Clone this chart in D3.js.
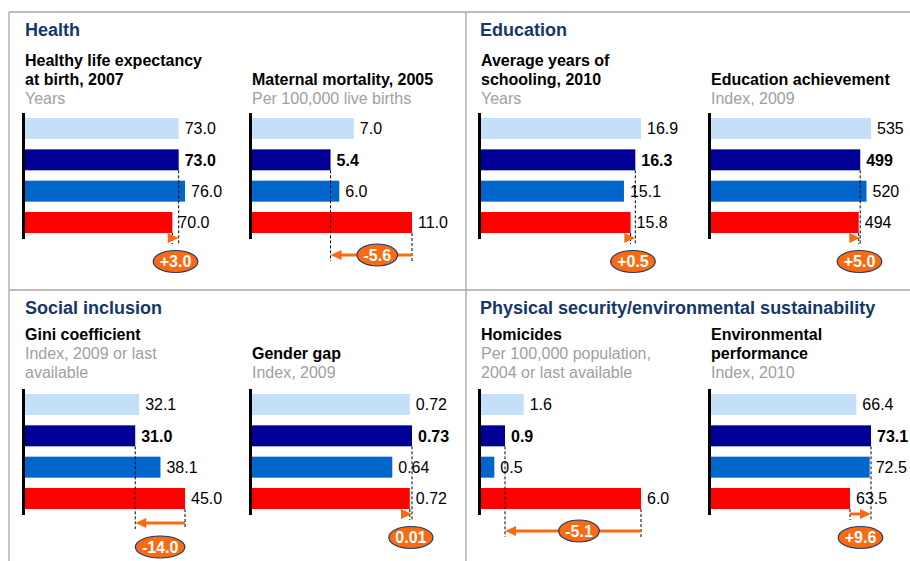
<!DOCTYPE html>
<html>
<head>
<meta charset="utf-8">
<script src="https://cdn.jsdelivr.net/npm/d3@7"></script>
<style>
  body { margin: 0; background: #fff; }
  svg { display: block; font-family: "Liberation Sans", Arial, sans-serif; }
</style>
</head>
<body>
<div id="chart"></div>
<script>
// bar order inside every small chart (top to bottom)
var series = ['Peer A', 'Country', 'Peer B', 'Peer C'];
var seriesColors = ['#c6dff8', '#000096', '#0066cc', '#ff0000'];

var groups = ['Health', 'Education', 'Social inclusion', 'Physical security/environmental sustainability'];

var titles = [
    ['Healthy life expectancy', 'at birth, 2007'],
    ['Maternal mortality, 2005'],
    ['Average years of', 'schooling, 2010'],
    ['Education achievement'],
    ['Gini coefficient'],
    ['Gender gap'],
    ['Homicides'],
    ['Environmental', 'performance']
];
var units = [
    ['Years'],
    ['Per 100,000 live births'],
    ['Years'],
    ['Index, 2009'],
    ['Index, 2009 or last', 'available'],
    ['Index, 2009'],
    ['Per 100,000 population,', '2004 or last available'],
    ['Index, 2010']
];

var lifeExpectancy = [73.0, 73.0, 76.0, 70.0],
    maternalMortality = [7.0, 5.4, 6.0, 11.0],
    yearsSchooling = [16.9, 16.3, 15.1, 15.8],
    eduAchievement = [535, 499, 520, 494],
    gini = [32.1, 31.0, 38.1, 45.0],
    genderGap = [0.72, 0.73, 0.64, 0.72],
    homicides = [1.6, 0.9, 0.5, 6.0],
    envPerformance = [66.4, 73.1, 72.5, 63.5];

var values = [lifeExpectancy, maternalMortality, yearsSchooling, eduAchievement,
              gini, genderGap, homicides, envPerformance];
var formats = ['.1f', '.1f', '.1f', 'd', '.1f', '.2f', '.1f', '.1f'];
var gapLabels = ['+3.0', '-5.6', '+0.5', '+5.0', '-14.0', '0.01', '-5.1', '+9.6'];

// where the gap bubble sits
var gapPlacement = ['short', 'inline', 'short', 'short', 'below', 'short', 'inline', 'short'];

var width = 910, height = 561;
var colX = [25, 252, 481, 711],
    rowY = [118, 394],
    headX = [25, 480],
    headY = [36, 314],
    unitY = [104, 378],
    lineH = 19;

var orange = '#f96b12', navyText = '#17376a', grey = '#a0a0a0';

var svg = d3.select('#chart').append('svg')
    .attr('width', width)
    .attr('height', height);

// frame
var frame = svg.append('g').attr('stroke', '#a6a6a6').attr('stroke-width', 1.3);
frame.append('line').attr('x1', 9).attr('x2', width).attr('y1', 12).attr('y2', 12);
frame.append('line').attr('x1', 9).attr('x2', 9).attr('y1', 12).attr('y2', height);
frame.append('line').attr('x1', 466).attr('x2', 466).attr('y1', 12).attr('y2', height);
frame.append('line').attr('x1', 9).attr('x2', width).attr('y1', 290).attr('y2', 290);

// group headings
groups.forEach(function(g, i){
    svg.append('text')
        .attr('x', headX[i % 2])
        .attr('y', headY[Math.floor(i / 2)])
        .attr('fill', navyText)
        .style('font-size', '18px')
        .style('font-weight', 'bold')
        .text(g);
});

var band = d3.scaleBand()
    .domain(d3.range(series.length))
    .range([0, 115])
    .paddingInner(0.33);

values.forEach(function(vals, p){
    var col = p % 4, row = Math.floor(p / 4);
    var x0 = colX[col], y0 = rowY[row];
    var x = d3.scaleLinear().domain([0, d3.max(vals)]).range([0, 160]);
    var fmt = d3.format(formats[p]);

    var g = svg.append('g').attr('transform', 'translate(' + x0 + ',' + y0 + ')');

    // titles, bottom aligned above the bars
    var nUnits = units[p].length, nTitles = titles[p].length;
    units[p].forEach(function(t, i){
        g.append('text')
            .attr('x', 0)
            .attr('y', unitY[row] - y0 - (nUnits - 1 - i) * lineH)
            .attr('fill', grey)
            .style('font-size', '16px')
            .text(t);
    });
    titles[p].forEach(function(t, i){
        g.append('text')
            .attr('x', 0)
            .attr('y', unitY[row] - y0 - (nUnits + nTitles - 1 - i) * lineH)
            .attr('fill', '#000')
            .style('font-size', '16px')
            .style('font-weight', 'bold')
            .text(t);
    });

    g.selectAll('rect.bar')
        .data(vals)
        .enter()
        .append('rect')
        .attr('class', 'bar')
        .attr('x', 0)
        .attr('y', function(d, i){ return band(i); })
        .attr('width', function(d){ return x(d); })
        .attr('height', band.bandwidth())
        .attr('fill', function(d, i){ return seriesColors[i]; });

    g.selectAll('text.val')
        .data(vals)
        .enter()
        .append('text')
        .attr('class', 'val')
        .attr('x', function(d){ return x(d) + 6; })
        .attr('y', function(d, i){ return band(i) + band.bandwidth() / 2; })
        .attr('dy', '0.36em')
        .style('font-size', '16px')
        .style('font-weight', function(d, i){ return i === 1 ? 'bold' : 'normal'; })
        .text(function(d){ return fmt(d); });

    // axis line
    g.append('line')
        .attr('x1', -1.5).attr('x2', -1.5)
        .attr('y1', -5).attr('y2', 121)
        .attr('stroke', '#000')
        .attr('stroke-width', 3);

    // gap annotation: from last bar to the highlighted one
    var xFrom = x(vals[3]), xTo = x(vals[1]);
    var bottom = band(3) + band.bandwidth();
    var place = gapPlacement[p];
    var ay = place === 'short' ? bottom + 5 : place === 'below' ? bottom + 14 : bottom + 22;
    var ey = place === 'short' ? bottom + 28.5 : place === 'below' ? bottom + 38 : ay;
    var ex = place === 'inline' ? (xFrom + xTo) / 2 + 6 : (xFrom + xTo) / 2;

    var dash = g.append('g')
        .attr('stroke', '#000')
        .attr('stroke-width', 1)
        .attr('stroke-dasharray', '3,2');
    dash.append('line')
        .attr('x1', xTo).attr('x2', xTo)
        .attr('y1', band(1) + band.bandwidth()).attr('y2', ay + 6);
    dash.append('line')
        .attr('x1', xFrom).attr('x2', xFrom)
        .attr('y1', bottom).attr('y2', ay + 6);

    var dir = xTo >= xFrom ? 1 : -1, head = 11;
    if (Math.abs(xTo - xFrom) > head) {
        g.append('line')
            .attr('x1', xFrom).attr('x2', xTo - dir * (head - 1))
            .attr('y1', ay).attr('y2', ay)
            .attr('stroke', orange)
            .attr('stroke-width', 3);
    }
    g.append('path')
        .attr('d', 'M' + xTo + ',' + ay + 'L' + (xTo - dir * head) + ',' + (ay - 5) +
                   'L' + (xTo - dir * head) + ',' + (ay + 5) + 'Z')
        .attr('fill', orange);

    var bubble = g.append('g').attr('transform', 'translate(' + ex + ',' + ey + ')');
    var ell = bubble.append('ellipse')
        .attr('ry', 11)
        .attr('fill', orange)
        .attr('stroke', '#1f3a6e')
        .attr('stroke-width', 1.2);
    var lbl = bubble.append('text')
        .attr('text-anchor', 'middle')
        .attr('dy', '0.36em')
        .attr('fill', '#fff')
        .style('font-size', '16px')
        .style('font-weight', 'bold')
        .text(gapLabels[p]);
    ell.attr('rx', lbl.node().getComputedTextLength() / 2 + 6.5);
});
</script>
</body>
</html>
